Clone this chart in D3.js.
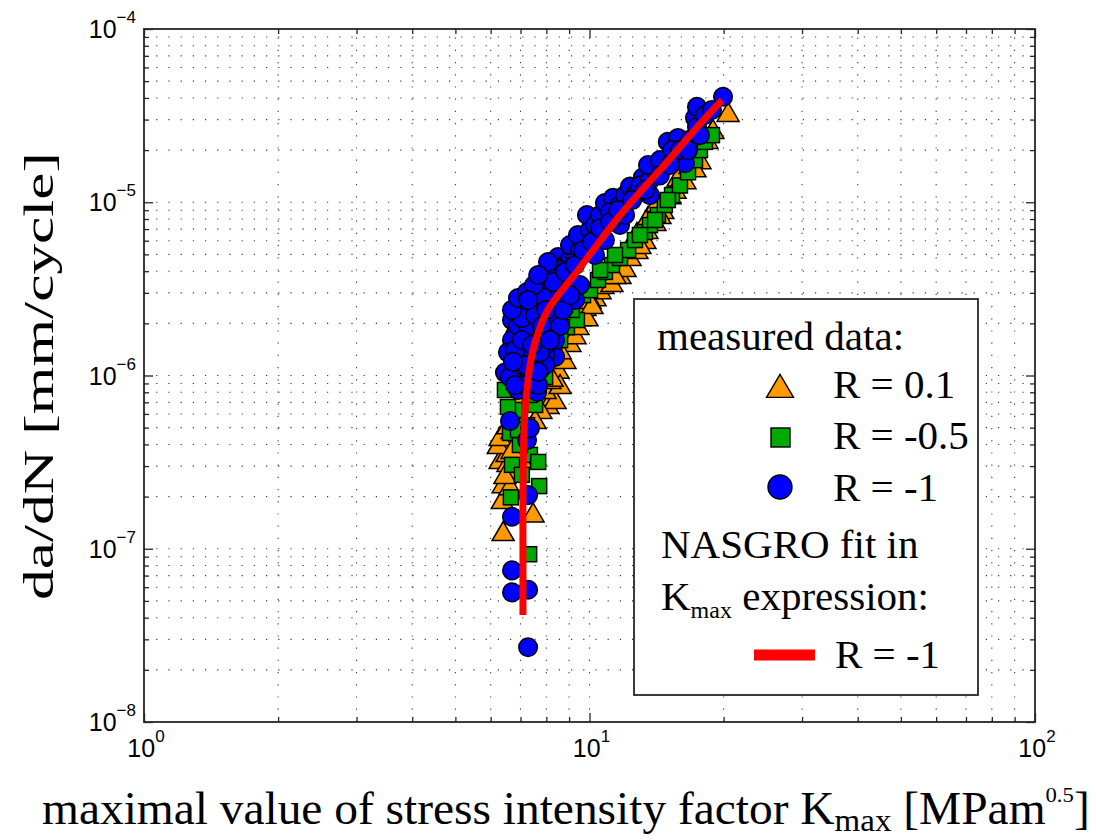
<!DOCTYPE html>
<html>
<head>
<meta charset="utf-8">
<script src="https://cdn.jsdelivr.net/npm/d3@7"></script>
<style>
  body { margin: 0; background: #fff; }
  svg { display: block; }
</style>
</head>
<body>
<svg id="chart" width="1096" height="840"></svg>
<script>
// Crack growth rate da/dN [mm/cycle] against K_max [MPa m^0.5]

// R = 0.1 (triangles)
const r01K = [6.40, 7.47, 6.37, 6.40, 6.63, 6.30, 6.56, 6.53, 6.24, 6.30, 6.87, 6.70, 6.98, 6.56, 6.80, 6.46,
  7.05, 6.70, 6.98, 8.07, 8.37, 7.78, 7.95, 8.50, 8.59, 8.81, 9.04, 9.28, 9.52, 9.77, 9.87, 10.29, 10.56,
  10.72, 11.23, 11.71, 12.02, 12.33, 12.78, 12.78, 13.32, 13.53, 13.46, 14.03, 14.17, 14.61, 15.16, 15.80,
  16.38, 16.81, 17.70, 18.35, 18.93, 20.47, 7.55, 8.15, 10.03, 11.00, 8.59, 8.24, 9.42, 10.13, 11.41,
  12.98, 14.39, 15.56, 17.25];
const r01Rate = [1.25e-7, 1.60e-7, 1.91e-7, 2.36e-7, 2.30e-7, 3.25e-7, 3.13e-7, 3.57e-7, 3.97e-7, 4.42e-7,
  4.13e-7, 4.85e-7, 5.53e-7, 5.17e-7, 2.85e-7, 2.67e-7, 3.25e-7, 3.72e-7, 7.22e-7, 6.76e-7, 7.22e-7,
  6.32e-7, 8.25e-7, 1.08e-6, 8.81e-7, 1.23e-6, 1.54e-6, 1.71e-6, 2.17e-6, 2.49e-6, 2.17e-6, 2.83e-6,
  3.11e-6, 3.33e-6, 3.42e-6, 3.80e-6, 4.17e-6, 4.83e-6, 5.30e-6, 6.65e-6, 6.05e-6, 8.22e-6, 6.92e-6,
  7.69e-6, 9.90e-6, 9.02e-6, 1.10e-5, 1.39e-5, 1.34e-5, 1.64e-5, 1.75e-5, 2.29e-5, 2.61e-5, 3.28e-5,
  5.53e-7, 9.42e-7, 2.73e-6, 3.80e-6, 1.40e-6, 9.70e-7, 1.93e-6, 2.55e-6, 3.80e-6, 5.66e-6, 8.44e-6,
  1.18e-5, 1.57e-5];

// R = -0.5 (squares)
const r05K = [7.32, 6.66, 7.71, 7.35, 6.63, 6.98, 7.24, 6.80, 6.56, 6.46, 7.55, 7.95, 7.35, 7.74, 8.07, 8.37,
  8.90, 9.37, 8.59, 9.13, 9.67, 10.03, 10.45, 10.83, 11.23, 11.71, 12.21, 12.65, 13.32, 13.67, 14.24, 14.76,
  15.32, 15.96, 16.64, 17.25, 17.70, 18.16, 18.83, 6.98, 7.17, 6.70, 7.05, 7.67, 6.91, 8.81, 10.56, 11.41,
  12.98, 14.03, 14.99];
const r05Rate = [9.3e-8, 1.98e-7, 2.30e-7, 3.48e-7, 4.66e-7, 3.97e-7, 5.17e-7, 6.32e-7, 6.58e-7, 8.25e-7,
  6.76e-7, 9.8e-7, 7.72e-7, 1.23e-6, 1.40e-6, 1.78e-6, 1.90e-6, 2.09e-6, 1.60e-6, 2.39e-6, 2.91e-6,
  3.11e-6, 3.56e-6, 3.96e-6, 4.34e-6, 4.77e-6, 5.30e-6, 6.05e-6, 6.74e-6, 7.39e-6, 8.44e-6, 9.64e-6,
  1.10e-5, 1.25e-5, 1.49e-5, 1.75e-5, 2.00e-5, 2.23e-5, 2.44e-5, 1.08e-6, 9.42e-7, 3.05e-7, 2.67e-7,
  3.17e-7, 4.85e-7, 2.55e-6, 4.06e-6, 4.96e-6, 6.47e-6, 7.90e-6, 1.03e-5];

// R = -1 (circles)
const r1K = [7.28, 7.28, 6.70, 6.70, 6.70, 7.28, 7.24, 7.35, 6.63, 6.91, 7.63, 6.46, 6.63, 6.87, 6.98, 6.98,
  7.09, 6.98, 7.35, 7.55, 7.74, 7.95, 7.28, 7.55, 7.95, 8.15, 8.37, 8.15, 8.28, 7.55, 7.74, 7.35, 7.17,
  7.95, 7.67, 7.24, 8.59, 8.81, 8.50, 8.07, 8.24, 8.50, 8.81, 9.04, 9.28, 9.04, 9.52, 9.77, 9.42, 10.03,
  9.87, 10.29, 10.56, 10.83, 11.29, 11.12, 11.71, 11.41, 12.02, 12.33, 12.65, 13.18, 12.98, 13.67, 14.03,
  13.53, 14.39, 14.99, 15.80, 15.32, 16.38, 15.96, 16.81, 17.25, 17.43, 17.43, 18.16, 19.94, 7.74, 7.43,
  8.07, 8.59, 7.82, 7.63, 7.17, 6.80, 6.70, 8.59, 8.37, 6.70, 6.91, 7.20, 7.43, 7.67, 7.86, 7.35, 7.05,
  7.95, 8.37, 8.15, 8.03, 9.28, 9.52, 10.29, 10.83, 11.71, 13.67, 12.02, 8.59, 6.56, 6.80, 7.55, 7.95,
  8.07, 8.37, 7.95, 7.74, 7.67, 8.24, 8.59, 8.72, 9.04, 7.28, 7.05, 6.80, 7.55, 7.86, 8.28, 8.81, 9.28,
  9.67, 10.13, 10.56, 11.12, 11.59, 12.46, 13.32, 14.39, 15.16, 16.64, 17.70, 18.83,
  6.70, 6.91, 7.24, 7.51, 7.05, 7.43, 7.20, 6.73, 7.99, 7.82, 8.15, 7.67, 7.28, 8.07, 7.67];
const r1Rate = [2.7e-8, 5.8e-8, 5.6e-8, 7.5e-8, 1.53e-7, 2.04e-7, 4.24e-7, 4.97e-7, 5.46e-7, 8.25e-7,
  8.03e-7, 1.04e-6, 9.8e-7, 1.23e-6, 1.50e-6, 1.83e-6, 2.15e-6, 2.62e-6, 2.39e-6, 2.73e-6, 3.11e-6,
  3.33e-6, 1.60e-6, 1.83e-6, 2.09e-6, 2.39e-6, 2.73e-6, 1.36e-6, 1.46e-6, 1.23e-6, 1.08e-6, 1.01e-6,
  8.81e-7, 1.71e-6, 1.50e-6, 1.31e-6, 3.11e-6, 3.56e-6, 3.80e-6, 4.06e-6, 4.52e-6, 4.83e-6, 4.34e-6,
  4.64e-6, 4.96e-6, 5.66e-6, 5.30e-6, 6.05e-6, 6.47e-6, 6.92e-6, 8.44e-6, 7.39e-6, 8.44e-6, 9.90e-6,
  1.06e-5, 8.78e-6, 9.64e-6, 7.90e-6, 1.10e-5, 1.23e-5, 1.10e-5, 1.39e-5, 1.25e-5, 1.34e-5, 1.53e-5,
  1.64e-5, 1.75e-5, 2.23e-5, 2.35e-5, 2.00e-5, 1.68e-5, 2.00e-5, 2.29e-5, 3.07e-5, 3.55e-5, 2.72e-5,
  3.19e-5, 4.06e-5, 2.55e-6, 2.04e-6, 2.80e-6, 3.65e-6, 3.56e-6, 2.83e-6, 1.83e-6, 1.71e-6, 2.09e-6,
  4.06e-6, 1.28e-6, 1.60e-6, 1.93e-6, 2.33e-6, 2.55e-6, 2.24e-6, 1.83e-6, 1.40e-6, 1.15e-6, 1.31e-6,
  2.04e-6, 3.11e-6, 3.80e-6, 2.73e-6, 3.33e-6, 4.96e-6, 6.05e-6, 7.39e-6, 1.10e-5, 8.44e-6, 2.55e-6,
  1.36e-6, 8.81e-7, 9.42e-7, 1.50e-6,
  1.83e-6, 1.60e-6, 1.15e-6, 1.36e-6, 8.81e-7, 2.15e-6, 1.93e-6, 2.39e-6, 2.91e-6, 1.93e-6, 2.15e-6,
  1.40e-6, 2.24e-6, 2.83e-6, 3.47e-6, 3.96e-6, 4.34e-6, 5.30e-6, 5.90e-6, 7.10e-6, 7.69e-6, 9.02e-6,
  1.03e-5, 1.18e-5, 1.43e-5, 1.64e-5, 2.00e-5, 2.44e-5, 3.41e-5,
  2.39e-6, 2.80e-6, 3.03e-6, 3.33e-6, 1.60e-6, 1.50e-6, 1.15e-6, 1.20e-6, 2.39e-6, 1.93e-6, 1.60e-6,
  1.05e-6, 2.73e-6, 4.52e-6, 3.80e-6];

// NASGRO fit in K_max expression, R = -1
const fitK = [7.09, 7.09, 7.09, 7.11, 7.13, 7.17, 7.24, 7.33, 7.47, 7.67, 7.86, 8.11, 8.41, 8.72, 9.33,
  9.92, 10.56, 11.29, 12.14, 13.12, 14.39, 15.96, 17.70, 19.83];
const fitRate = [4.15e-8, 8.6e-8, 1.91e-7, 3.72e-7, 4.85e-7, 6.32e-7, 8.25e-7, 1.08e-6, 1.40e-6, 1.76e-6,
  2.09e-6, 2.45e-6, 2.80e-6, 3.15e-6, 3.91e-6, 4.83e-6, 5.97e-6, 7.49e-6, 9.39e-6, 1.18e-5, 1.53e-5,
  2.08e-5, 2.83e-5, 3.89e-5];

// Axis decades
const xTickExps = [0, 1, 2];
const yTickExps = [-4, -5, -6, -7, -8];

const legendEntries = ["R = 0.1", "R = -0.5", "R = -1"];

const plot = { left: 144, right: 1035, top: 29, bottom: 722 };
const x = d3.scaleLog().domain([1, 100]).range([plot.left, plot.right]);
const y = d3.scaleLog().domain([1e-8, 1e-4]).range([plot.bottom, plot.top]);

const svg = d3.select("#chart");
const serif = "'Liberation Serif', 'Times New Roman', serif";
const sans = "'Liberation Sans', Arial, Helvetica, sans-serif";

// dotted grid at every major/minor position
const xAll = x.ticks();
const yAll = y.ticks();
const near = (a, b) => Math.abs(Math.log10(a) - Math.log10(b)) < 1e-6;
const xInner = xAll.filter(v => !near(v, 1) && !near(v, 100));
const yInner = yAll.filter(v => !near(v, 1e-8) && !near(v, 1e-4));

const grid = svg.append("g").attr("stroke", "#3a3a3a").attr("stroke-width", 1.1)
  .attr("stroke-dasharray", "1.2 11");
grid.selectAll(".gx").data(xInner).join("line")
  .attr("x1", d => x(d)).attr("x2", d => x(d))
  .attr("y1", plot.bottom).attr("y2", plot.top);
grid.selectAll(".gy").data(yInner).join("line")
  .attr("y1", d => y(d)).attr("y2", d => y(d))
  .attr("x1", plot.left).attr("x2", plot.right);

// inward ticks on all four sides
const isMajor = v => Math.abs(Math.log10(v) - Math.round(Math.log10(v))) < 1e-6;
function tickAxes(values, len) {
  const xs = [
    [d3.axisBottom(x), `translate(0,${plot.bottom})`],
    [d3.axisTop(x), `translate(0,${plot.top})`],
  ];
  const ys = [
    [d3.axisLeft(y), `translate(${plot.left},0)`],
    [d3.axisRight(y), `translate(${plot.right},0)`],
  ];
  xs.forEach(([ax, tr]) => {
    const g = svg.append("g").attr("transform", tr)
      .call(ax.tickValues(values.x).tickSize(-len).tickFormat(""));
    g.select(".domain").remove();
    g.selectAll("line").attr("stroke", "#262626").attr("stroke-width", 1.3);
  });
  ys.forEach(([ax, tr]) => {
    const g = svg.append("g").attr("transform", tr)
      .call(ax.tickValues(values.y).tickSize(-len).tickFormat(""));
    g.select(".domain").remove();
    g.selectAll("line").attr("stroke", "#262626").attr("stroke-width", 1.3);
  });
}
tickAxes({ x: xAll.filter(v => !isMajor(v)), y: yAll.filter(v => !isMajor(v)) }, 5);
tickAxes({ x: xAll.filter(isMajor), y: yAll.filter(isMajor) }, 9);

// tick labels 10^n
xTickExps.forEach(e => {
  const t = svg.append("text").attr("x", x(Math.pow(10, e)) + 2).attr("y", plot.bottom + 35)
    .attr("text-anchor", "middle").attr("font-family", sans).attr("font-size", 25).attr("fill", "#000");
  t.append("tspan").text("10");
  t.append("tspan").attr("dy", -15).attr("font-size", 17).text(String(e));
});
yTickExps.forEach(e => {
  const t = svg.append("text").attr("x", plot.left - 8).attr("y", y(Math.pow(10, e)) + 9)
    .attr("text-anchor", "end").attr("font-family", sans).attr("font-size", 25).attr("fill", "#000");
  t.append("tspan").text("10");
  t.append("tspan").attr("dy", -15).attr("font-size", 17).text("\u2212" + Math.abs(e));
});

// markers
const triPath = (w, h) => `M0,${-h * 0.55}L${w / 2},${h * 0.45}L${-w / 2},${h * 0.45}Z`;
const marks = svg.append("g").attr("stroke", "#000").attr("stroke-width", 1.5);

marks.selectAll(".tri").data(d3.zip(r01K, r01Rate)).join("path")
  .attr("d", triPath(22, 19))
  .attr("transform", d => `translate(${x(d[0])},${y(d[1])})`)
  .attr("fill", "#FF9900");

marks.selectAll(".sq").data(d3.zip(r05K, r05Rate)).join("rect")
  .attr("x", d => x(d[0]) - 7.5).attr("y", d => y(d[1]) - 7.5)
  .attr("width", 15).attr("height", 15)
  .attr("fill", "#00AA00");

marks.selectAll(".circ").data(d3.zip(r1K, r1Rate)).join("circle")
  .attr("cx", d => x(d[0])).attr("cy", d => y(d[1])).attr("r", 9.3)
  .attr("fill", "#0000FF");

// fit curve
const line = d3.line().x(d => x(d[0])).y(d => y(d[1])).curve(d3.curveCatmullRom.alpha(0.5));
svg.append("path").datum(d3.zip(fitK, fitRate))
  .attr("d", line).attr("fill", "none").attr("stroke", "#FF0000").attr("stroke-width", 7);

// axes box
svg.append("rect").attr("x", plot.left).attr("y", plot.top)
  .attr("width", plot.right - plot.left).attr("height", plot.bottom - plot.top)
  .attr("fill", "none").attr("stroke", "#262626").attr("stroke-width", 1.8);

// legend
const lg = svg.append("g");
lg.append("rect").attr("x", 634).attr("y", 299).attr("width", 344).attr("height", 396)
  .attr("fill", "#fff").attr("stroke", "#262626").attr("stroke-width", 1.8);
const lgText = (tx, ty, s) => lg.append("text").attr("x", tx).attr("y", ty)
  .attr("font-family", serif).attr("font-size", 41).attr("fill", "#000").text(s);
lgText(657, 350, "measured data:");
lg.append("path").attr("d", triPath(27, 23)).attr("transform", "translate(780,387)")
  .attr("fill", "#FF9900").attr("stroke", "#000").attr("stroke-width", 1.4);
lgText(833, 398, legendEntries[0]);
lg.append("rect").attr("x", 771).attr("y", 428).attr("width", 19).attr("height", 19)
  .attr("fill", "#00AA00").attr("stroke", "#000").attr("stroke-width", 1.4);
lgText(833, 449, legendEntries[1]);
lg.append("circle").attr("cx", 780).attr("cy", 487).attr("r", 12)
  .attr("fill", "#0000FF").attr("stroke", "#000").attr("stroke-width", 1.4);
lgText(833, 501, legendEntries[2]);
lgText(661, 558, "NASGRO fit in");
const kt = lg.append("text").attr("x", 661).attr("y", 610)
  .attr("font-family", serif).attr("font-size", 41).attr("fill", "#000");
kt.append("tspan").text("K");
kt.append("tspan").attr("dy", 8).attr("font-size", 24).text("max");
kt.append("tspan").attr("dy", -8).text(" expression:");
lg.append("line").attr("x1", 754).attr("x2", 815).attr("y1", 655).attr("y2", 655)
  .attr("stroke", "#FF0000").attr("stroke-width", 11);
lgText(835, 668, "R = -1");

// x axis title, fitted to its span
const xt = svg.append("text").attr("x", 0).attr("y", 824)
  .attr("font-family", serif).attr("font-size", 46).attr("fill", "#000");
xt.append("tspan").text("maximal value of stress intensity factor K");
xt.append("tspan").attr("dy", 7).attr("font-size", 32).text("max");
xt.append("tspan").attr("dy", -7).text(" [MPam");
xt.append("tspan").attr("dy", -22).attr("font-size", 22).text("0.5");
xt.append("tspan").attr("dy", 22).text("]");
{
  const bb = xt.node().getBBox();
  const sx = (1090 - 42) / bb.width;
  xt.attr("transform", `translate(${42 - bb.x * sx},0) scale(${sx},1)`);
}

// y axis title, stretched along its reading direction to its span
const yt = svg.append("text").attr("x", 0).attr("y", 0)
  .attr("text-anchor", "middle").attr("font-family", serif).attr("font-size", 42)
  .attr("fill", "#000").text("da/dN [mm/cycle]");
{
  const bb = yt.node().getBBox();
  const s = 448 / bb.width;
  yt.attr("transform", `translate(53,376) rotate(-90) scale(${s},1)`);
}
</script>
</body>
</html>
